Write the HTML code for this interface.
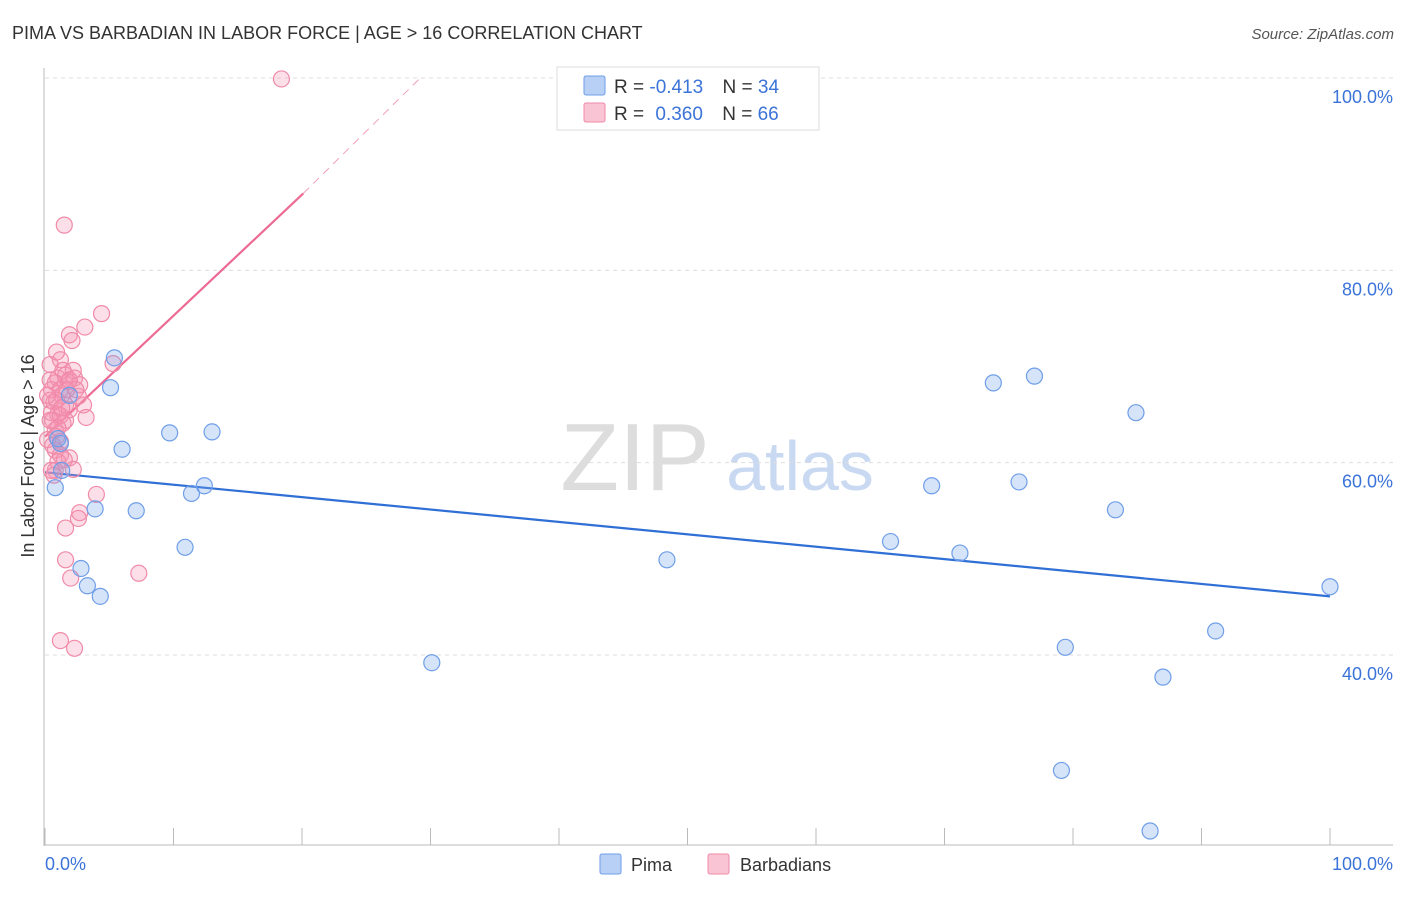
<!DOCTYPE html>
<html><head><meta charset="utf-8"><style>
body{margin:0;background:#fff;font-family:"Liberation Sans",sans-serif;}
svg text{font-family:"Liberation Sans",sans-serif;}
</style></head><body>
<svg id="c" width="1406" height="892" xmlns="http://www.w3.org/2000/svg">
<text x="12" y="39" font-size="18" fill="#333">PIMA VS BARBADIAN IN LABOR FORCE | AGE &gt; 16 CORRELATION CHART</text>
<text x="1394" y="39" font-size="15" fill="#555" text-anchor="end" font-style="italic">Source: ZipAtlas.com</text>
<g>
<text x="635" y="490" font-size="96" fill="#ddd" font-family="Liberation Serif" text-anchor="middle">ZIP</text>
<text x="800" y="490" font-size="70" fill="#c9d9f2" text-anchor="middle">atlas</text>
</g>
<g id="grid"></g><g id="axes"></g><g id="lines"></g><g id="pts"></g>
<text transform="translate(34,456) rotate(-90)" font-size="18" fill="#333" text-anchor="middle">In Labor Force | Age &gt; 16</text>
<text x="45" y="870" font-size="18" fill="#3b73d9">0.0%</text>
<text x="1393" y="870" font-size="18" fill="#3b73d9" text-anchor="end">100.0%</text>
<g>
<rect x="557" y="67" width="262" height="63" fill="#fff" stroke="#ddd"/>
<rect x="584" y="76" width="21" height="19" fill="#b8d0f5" stroke="#6f9ee8" rx="2"/>
<text x="614" y="93" font-size="19" fill="#333">R = <tspan fill="#3b73d9">-0.413</tspan>   <tspan dx="14">N = </tspan><tspan fill="#3b73d9">34</tspan></text>
<rect x="584" y="103" width="21" height="19" fill="#f9c4d4" stroke="#f08aa8" rx="2"/>
<text x="614" y="120" font-size="19" fill="#333">R = <tspan fill="#3b73d9" dx="6">0.360</tspan>   <tspan dx="14">N = </tspan><tspan fill="#3b73d9">66</tspan></text>
</g>
<g>
<rect x="600" y="854" width="21" height="20" fill="#b8d0f5" stroke="#6f9ee8" rx="2"/>
<text x="631" y="871" font-size="18" fill="#333">Pima</text>
<rect x="708" y="854" width="21" height="20" fill="#f9c4d4" stroke="#f08aa8" rx="2"/>
<text x="740" y="871" font-size="18" fill="#333">Barbadians</text>
</g>
</svg>
<script>
const yTicks=[40,60,80,100];
const yTickLabels=["40.0%","60.0%","80.0%","100.0%"];
const xTicks=[0,10,20,30,40,50,60,70,80,90,100];
const pimaX=[0.8,1.2,5.1,5.4,6.0,3.9,2.8,3.3,4.3,7.1,9.7,10.9,11.4,12.4,13.0,30.1,48.4,65.8,69.0,71.2,73.8,75.8,77.0,79.4,79.1,83.3,84.9,86.0,87.0,91.1,100.0,1.3,1.9,1.0];
const pimaY=[57.4,62.0,67.8,70.9,61.4,55.2,49.0,47.2,46.1,55.0,63.1,51.2,56.8,57.6,63.2,39.2,49.9,51.8,57.6,50.6,68.3,58.0,69.0,40.8,28.0,55.1,65.2,21.7,37.7,42.5,47.1,59.2,67.0,62.5];
const barbX=[18.4,1.5,4.4,3.1,1.9,2.1,1.2,5.3,1.4,2.2,1.0,1.6,2.3,0.8,1.8,0.5,1.3,2.6,0.7,1.6,3.0,0.5,1.0,3.2,0.6,1.4,0.8,0.9,1.2,0.8,1.2,1.9,1.0,2.2,0.8,4.0,2.7,2.6,1.6,1.6,2.0,7.3,1.2,2.3,0.4,0.4,0.4,0.2,1.2,1.7,0.9,1.2,1.9,2.7,0.6,1.5,0.4,0.9,1.6,0.2,0.5,1.9,2.4,1.0,1.3,0.7];
const barbY=[99.9,84.7,75.5,74.1,73.3,72.7,70.7,70.3,69.6,69.6,68.8,69.1,68.8,68.3,68.4,67.6,67.0,66.9,66.3,66.0,66.0,65.2,65.0,64.7,64.4,64.1,63.4,62.7,62.2,61.3,60.8,60.5,60.1,59.3,59.2,56.7,54.8,54.2,53.2,49.9,48.0,48.5,41.5,40.7,68.6,66.5,64.4,62.4,67.6,67.6,66.5,64.9,65.5,68.1,61.8,60.3,70.2,71.5,64.4,67.0,59.2,68.6,67.6,63.6,65.7,58.7];
const pimaTrend=[0,59.0,100,46.1];
const barbTrend=[0,62.7,20.1,88.0,29.2,100];
const NS="http://www.w3.org/2000/svg";
const sx=v=>45+v*12.85, sy=v=>1039.7-v*9.617;
function mk(p,t,a){const e=document.createElementNS(NS,t);for(const k in a)e.setAttribute(k,a[k]);document.getElementById(p).appendChild(e);return e;}
yTicks.forEach((v,i)=>{
 const g=mk('grid','line',{x1:45,x2:1393,y1:sy(v),y2:sy(v),stroke:'#ddd','stroke-dasharray':'4,4'});
 
 
 const t=mk('grid','text',{x:1393,y:sy(v)+25,'font-size':18,fill:'#3b73d9','text-anchor':'end'});
 t.textContent=yTickLabels[i];
 
 
});
const ya=mk('axes','line',{x1:44,x2:44,y1:68,y2:846,stroke:'#bbb'});


const xa=mk('axes','line',{x1:44,x2:1393,y1:845,y2:845,stroke:'#bbb'});


xTicks.forEach(v=>{
 const t=mk('axes','line',{x1:sx(v),x2:sx(v),y1:845,y2:828,stroke:'#bbb'});
 
 
});
function pts(X,Y,fill,stroke,name){X.forEach((x,i)=>{
 const c=mk('pts','circle',{cx:sx(x),cy:sy(Y[i]),r:8,fill:fill,stroke:stroke,'stroke-width':1.2});
 
 
});}
pts(barbX,barbY,'rgba(244,150,180,0.3)','#f08aa8','barbadian');
pts(pimaX,pimaY,'rgba(120,165,235,0.3)','#6f9ee8','pima');
const pl=mk('lines','line',{x1:sx(pimaTrend[0]),y1:sy(pimaTrend[1]),x2:sx(pimaTrend[2]),y2:sy(pimaTrend[3]),stroke:'#2f6fd6','stroke-width':2.2});


const bl=mk('lines','line',{x1:sx(barbTrend[0]),y1:sy(barbTrend[1]),x2:sx(barbTrend[2]),y2:sy(barbTrend[3]),stroke:'#ec6a93','stroke-width':2.2});


const bd=mk('lines','line',{x1:sx(barbTrend[2]),y1:sy(barbTrend[3]),x2:sx(barbTrend[4]),y2:sy(barbTrend[5]),stroke:'#f0a0b8','stroke-width':1,'stroke-dasharray':'8,6'});


</script>
</body></html>
